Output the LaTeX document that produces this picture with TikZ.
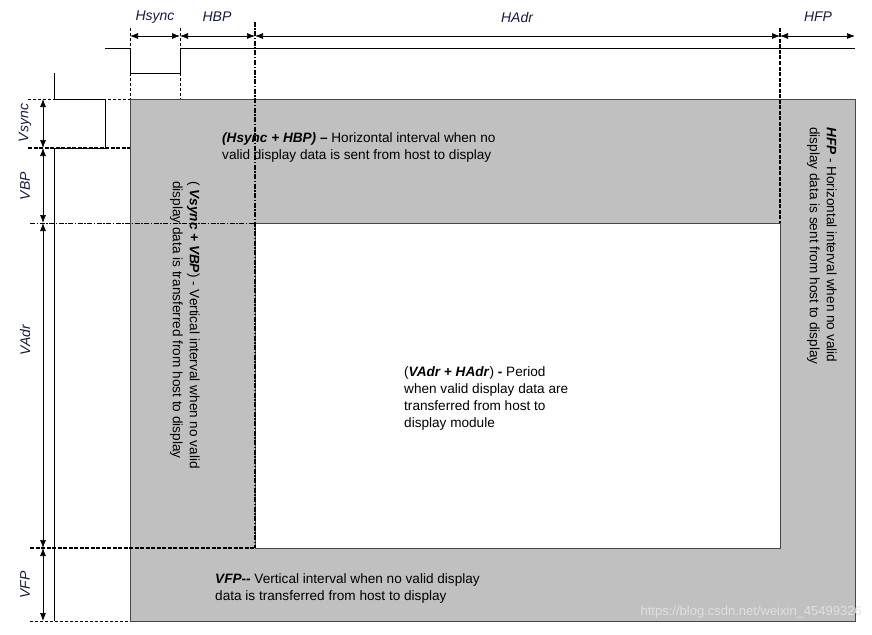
\documentclass[tikz,border=0pt]{standalone}
\usepackage{fontspec}
\setmainfont{Liberation Sans}
\usetikzlibrary{arrows.meta,positioning}
\definecolor{panel}{RGB}{192,192,192}
\definecolor{edge}{RGB}{70,70,70}
\definecolor{navy}{RGB}{22,26,66}
\tikzset{
  dim/.style={line width=0.7pt,>={Latex[length=8pt,width=6pt]}},
  lbl/.style={font=\fontsize{14}{16}\selectfont\itshape,text=navy,inner sep=0pt},
  note/.style={font=\fontsize{13.6}{17}\selectfont,align=left,inner sep=0pt},
  guide/.style={dashed,line width=0.6pt,dash pattern=on 3pt off 2pt},
  heavy/.style={line width=1.4pt,dash pattern=on 4pt off 1.5pt},
  heavydot/.style={line width=1.4pt,dash pattern=on 5pt off 1.5pt on 1.5pt off 1.5pt},
  wave/.style={line width=0.7pt},
}
\newcommand{\bi}[1]{\textbf{\textit{#1}}}
\begin{document}
\begin{tikzpicture}[x=1pt,y=-1pt]
  \useasboundingbox (0,0) rectangle (872,634);
% display areas
  \fill[panel] (130,99) rectangle (855,621);
  \draw[edge,line width=0.7pt] (130,99) rectangle (855,621);
  \filldraw[fill=white,draw=edge,line width=0.7pt] (255,223) rectangle (780,548);
% sync waveforms
  \draw[wave] (105,48) -- (130,48) -- (130,73) -- (180,73) -- (180,48) -- (855,48);
  \draw[wave] (54,73) -- (54,99) -- (105,99) -- (105,148) -- (54,148) -- (54,621);
% guide lines
  \draw[guide] (130,28) -- (130,99);
  \draw[guide] (180,28) -- (180,99);
  \draw[heavydot] (255,22) -- (255,548);
  \draw[heavy] (780,28) -- (780,223);
  \draw[guide] (28,99) -- (130,99);
  \draw[heavy] (28,148) -- (130,148);
  \draw[guide,dash pattern=on 5pt off 1.5pt on 1.5pt off 1.5pt,line width=0.9pt] (30,223) -- (255,223);
  \draw[heavy] (30,548) -- (255,548);
  \draw[guide] (30,621) -- (130,621);
% horizontal timing
  \draw[dim,<->] (130,36) -- (180,36);
  \draw[dim,<->] (180,36) -- (255,36);
  \draw[dim,<->] (255,36) -- (780,36);
  \draw[dim,<->] (780,36) -- (855,36);
  \node[lbl] (hsync) at (155,17) {Hsync};
  \node[lbl] (hbp) at (217,17) {HBP};
  \node[lbl] (hadr) at (517,17) {HAdr};
  \node[lbl] (hfp) at (818,17) {HFP};
% vertical timing
  \draw[dim,<->] (43,99) -- (43,148);
  \draw[dim,<->] (43,148) -- (43,223);
  \draw[dim,<->] (43,223) -- (43,548);
  \draw[dim,<->] (43,548) -- (43,621);
  \node[lbl,rotate=90] (vsync) at (25,123) {Vsync};
  \node[lbl,rotate=90] (vbp) at (25,186) {VBP};
  \node[lbl,rotate=90] (vadr) at (25,340) {VAdr};
  \node[lbl,rotate=90] (vfp) at (25,585) {VFP};
% interval notes
  \node[note,anchor=north west] (hbpnote) at (222,132)
    {\bi{(Hsync + HBP) --} Horizontal interval when no\\valid display data is sent from host to display};
  \node[note,anchor=north west,rotate=-90] (vbpnote) at (200,181)
    {( \bi{Vsync + VBP}) - Vertical interval when no valid\\display data is transferred from host to display};
  \node[note,anchor=north west,rotate=-90] (hfpnote) at (837,127)
    {\bi{HFP} - Horizontal interval when no valid\\display data is sent from host to display};
  \node[note,anchor=north west] (adrnote) at (404,366)
    {(\bi{VAdr + HAdr}) \textbf{-} Period\\when valid display data are\\transferred from host to\\display module};
  \node[note,anchor=north west] (vfpnote) at (215,573)
    {\bi{VFP-{}-} Vertical interval when no valid display\\data is transferred from host to display};
  \node[font=\fontsize{13}{14}\selectfont,text=black!12,anchor=east,inner sep=0pt] (mark) at (862,612)
    {https://blog.csdn.net/weixin\_45499326};
\end{tikzpicture}
\end{document}
